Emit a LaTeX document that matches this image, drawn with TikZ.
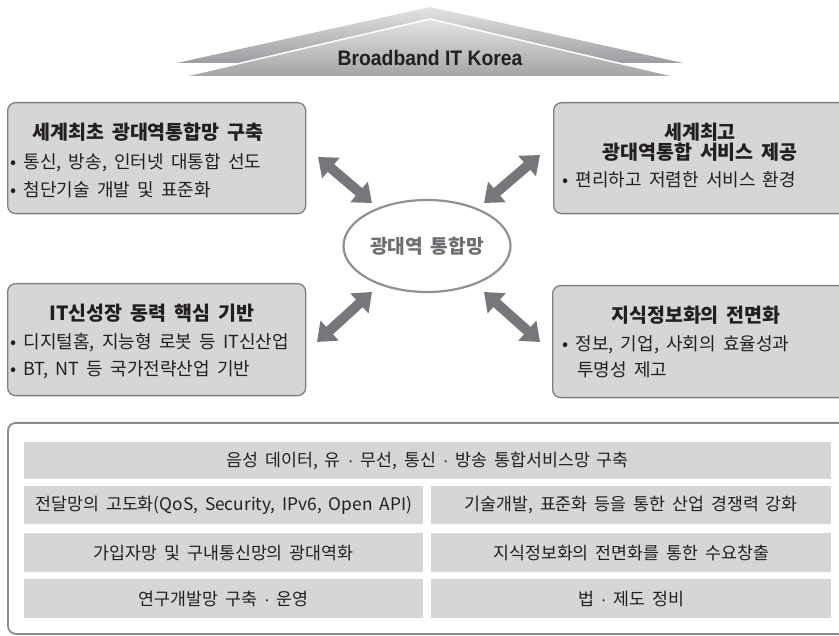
\documentclass[tikz,border=0pt]{standalone}
\usepackage{fontspec}
\setmainfont{Noto Sans CJK KR}[WordSpace=1.8]
\newfontfamily\rooffont{Liberation Sans}[FakeStretch=0.92]
\newfontfamily\dotfont{Liberation Sans}
\newcommand\mdot{{\dotfont ·}}
\usetikzlibrary{shapes.geometric,arrows.meta}
\definecolor{boxfill}{HTML}{D5D6D8}
\definecolor{boxline}{HTML}{7E8083}
\definecolor{rowfill}{HTML}{D5D6D8}
\definecolor{outerline}{HTML}{8A8C8E}
\definecolor{ellline}{HTML}{8F9193}
\definecolor{elltext}{HTML}{6D6E71}
\definecolor{arrowgray}{HTML}{76777A}
\definecolor{ink}{HTML}{231F20}
\definecolor{rooftop}{HTML}{E4E4E5}
\definecolor{roofbotA}{HTML}{9C9DA0}
\definecolor{roofbotB}{HTML}{A2A3A5}
\tikzset{
  box/.style={draw=boxline, fill=boxfill, line width=1.3pt, rounded corners=8pt, anchor=north west, inner sep=0pt},
  boxtitle/.style={font=\fontsize{19.5}{20.5}\selectfont\bfseries, text=ink, align=center, inner sep=0pt},
  bulletline/.style={font=\fontsize{18}{19}\selectfont, text=ink, anchor=west, inner sep=0pt},
  rowcell/.style={fill=rowfill, anchor=north west, inner sep=0pt, font=\fontsize{17.3}{18}\selectfont, text=ink},
  bigarrow/.style={line width=10pt, draw=arrowgray, {Triangle[length=17pt,width=26pt]}-{Triangle[length=17pt,width=26pt]}},
}
\begin{document}
\begin{tikzpicture}[x=1pt,y=-1pt]
\clip (0,0) rectangle (839,636);
\fill[white] (0,0) rectangle (839,636);
% roof
\shade[top color=rooftop, bottom color=roofbotA] (430,7) -- (683,63) -- (177,63) -- cycle;
\shade[top color=rooftop, bottom color=roofbotB, draw=white, line width=1.5pt] (430,19) -- (678,77) -- (181,77) -- cycle;
\node[font=\rooffont\bfseries\fontsize{21}{24}\selectfont, text=ink, inner sep=0pt] (roof) at (430,58) {Broadband IT Korea};
% corner boxes
\node[box, minimum width=298pt, minimum height=111pt] (tl) at (7,102) {};
\node[box, minimum width=297pt, minimum height=111pt] (tr) at (553,102) {};
\node[box, minimum width=298pt, minimum height=112pt] (bl) at (7,283) {};
\node[box, minimum width=298pt, minimum height=112pt] (br) at (552,285) {};
% box texts
\node[boxtitle] (tlt) at (148,132) {세계최초 광대역통합망 구축};
\node[bulletline] (tlb1) at (10,163) {• 통신, 방송, 인터넷 대통합 선도};
\node[bulletline] (tlb2) at (10,190) {• 첨단기술 개발 및 표준화};
\node[boxtitle] (trt) at (700,142) {세계최고\\광대역통합 서비스 제공};
\node[bulletline] (trb1) at (562,180) {• 편리하고 저렴한 서비스 환경};
\node[boxtitle] (blt) at (152,313) {IT신성장 동력 핵심 기반};
\node[bulletline] (blb1) at (10,343) {• 디지털홈, 지능형 로봇 등 IT신산업};
\node[bulletline] (blb2) at (10,370) {• BT, NT 등 국가전략산업 기반};
\node[boxtitle] (brt) at (696,315) {지식정보화의 전면화};
\node[bulletline] (brb1) at (562,345) {• 정보, 기업, 사회의 효율성과};
\node[bulletline] (brb2) at (577,370) {투명성 제고};
% hub
\node[ellipse, draw=ellline, line width=2.2pt, fill=white, minimum width=167pt, minimum height=92pt, inner sep=0pt,
      font=\fontsize{19.2}{20}\selectfont\bfseries, text=elltext] (hub) at (427,246) {광대역 통합망};
% arrow ends
\coordinate (a1s) at (318,157); \coordinate (a1e) at (372,203);
\coordinate (a2s) at (484,203); \coordinate (a2e) at (540,155);
\coordinate (a3s) at (317,342); \coordinate (a3e) at (372,292);
\coordinate (a4s) at (484,292); \coordinate (a4e) at (540,342);
\draw[bigarrow] (a1s) -- (a1e);
\draw[bigarrow] (a2s) -- (a2e);
\draw[bigarrow] (a3s) -- (a3e);
\draw[bigarrow] (a4s) -- (a4e);
% bottom panel
\node[draw=outerline, line width=1.8pt, rounded corners=8pt, anchor=north west, minimum width=848pt, minimum height=211pt, inner sep=0pt] (panel) at (7,422) {};
\node[rowcell, minimum width=807pt, minimum height=37pt] (r1) at (24,442) {음성 데이터, 유 \mdot{} 무선, 통신 \mdot{} 방송 통합서비스망 구축};
\node[rowcell, minimum width=399pt, minimum height=38pt] (r2a) at (24,486) {전달망의 고도화(QoS, Security, IPv6, Open API)};
\node[rowcell, minimum width=400pt, minimum height=38pt] (r2b) at (431,486) {기술개발, 표준화 등을 통한 산업 경쟁력 강화};
\node[rowcell, minimum width=399pt, minimum height=39pt] (r3a) at (24,533) {가입자망 및 구내통신망의 광대역화};
\node[rowcell, minimum width=400pt, minimum height=39pt] (r3b) at (431,533) {지식정보화의 전면화를 통한 수요창출};
\node[rowcell, minimum width=399pt, minimum height=39pt] (r4a) at (24,579) {연구개발망 구축 \mdot{} 운영};
\node[rowcell, minimum width=400pt, minimum height=39pt] (r4b) at (431,579) {법 \mdot{} 제도 정비};
\end{tikzpicture}
\end{document}
